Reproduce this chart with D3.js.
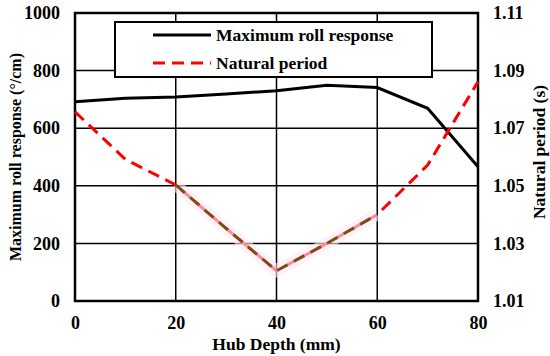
<!DOCTYPE html>
<html>
<head>
<meta charset="utf-8">
<script src="https://cdn.jsdelivr.net/npm/d3@7"></script>
<style>
  body { margin: 0; background: #fff; }
</style>
</head>
<body>
<svg></svg>
<script>
let width = 550;
let height = 356;
let margin = {top: 13, right: 72, bottom: 55, left: 75};
let serif = "'Liberation Serif', 'Times New Roman', serif";

let depth = [0, 10, 20, 30, 40, 50, 60, 70, 80];
let rollResponse = [692, 704, 708, 719, 730, 749, 741, 669, 466];
let naturalPeriod = [1.0757, 1.0592, 1.0503, 1.0352, 1.0205, 1.0300, 1.0400, 1.0572, 1.0861];
let xTicks = [0, 20, 40, 60, 80];
let leftTicks = [0, 200, 400, 600, 800, 1000];
let rightTicks = [1.01, 1.03, 1.05, 1.07, 1.09, 1.11];

let xScale = d3.scaleLinear()
    .domain([0, 80])
    .range([margin.left, width - margin.right]);

let yScale = d3.scaleLinear()
    .domain([0, 1000])
    .range([height - margin.bottom, margin.top]);

let y2Scale = d3.scaleLinear()
    .domain([1.01, 1.11])
    .range([height - margin.bottom, margin.top]);

let svg = d3.select("svg")
    .attr("width", width)
    .attr("height", height)
    .style("font-family", serif)
    .style("font-weight", "bold");

// grid
let grid = svg.append("g").attr("stroke", "#000").attr("stroke-width", 1.5);
grid.selectAll(".h").data(leftTicks).enter().append("line")
    .attr("x1", margin.left).attr("x2", width - margin.right)
    .attr("y1", d => yScale(d)).attr("y2", d => yScale(d));
grid.selectAll(".v").data(xTicks).enter().append("line")
    .attr("y1", margin.top).attr("y2", height - margin.bottom)
    .attr("x1", d => xScale(d)).attr("x2", d => xScale(d));

svg.append("rect")
    .attr("x", margin.left).attr("y", margin.top)
    .attr("width", width - margin.left - margin.right)
    .attr("height", height - margin.top - margin.bottom)
    .attr("fill", "none").attr("stroke", "#000").attr("stroke-width", 2.5);

// axes
let xAxis = d3.axisBottom(xScale).tickValues(xTicks).tickSize(0).tickPadding(15);
let yAxis = d3.axisLeft(yScale).tickValues(leftTicks).tickSize(0).tickPadding(15)
    .tickFormat(d3.format("d"));
let y2Axis = d3.axisRight(y2Scale).tickValues(rightTicks).tickSize(0).tickPadding(15)
    .tickFormat(d3.format(".2f"));

[svg.append("g").attr("transform", "translate(0," + (height - margin.bottom) + ")").call(xAxis),
 svg.append("g").attr("transform", "translate(" + margin.left + ",0)").call(yAxis),
 svg.append("g").attr("transform", "translate(" + (width - margin.right) + ",0)").call(y2Axis)]
    .forEach(g => {
        g.attr("font-family", null).attr("font-size", null);
        g.select(".domain").remove();
        g.selectAll("text")
            .style("font-family", serif)
            .style("font-weight", "bold")
            .style("font-size", "18px")
            .attr("fill", "#000");
    });

// axis titles
svg.append("text")
    .attr("x", (margin.left + width - margin.right) / 2)
    .attr("y", 350)
    .style("text-anchor", "middle")
    .style("font-size", "17.5px")
    .text("Hub Depth (mm)");

svg.append("text")
    .attr("transform", "rotate(-90)")
    .attr("x", -(margin.top + height - margin.bottom) / 2)
    .attr("y", 21)
    .style("text-anchor", "middle")
    .style("font-size", "16px")
    .text("Maximum roll response (°/cm)");

svg.append("text")
    .attr("transform", "rotate(-90)")
    .attr("x", -152)
    .attr("y", 545)
    .style("text-anchor", "middle")
    .style("font-size", "17.5px")
    .text("Natural period  (s)");

// lines
let rollLine = d3.line()
    .x((d, i) => xScale(depth[i]))
    .y(d => yScale(d));

let periodLine = d3.line()
    .x((d, i) => xScale(depth[i]))
    .y(d => y2Scale(d));

svg.append("path")
    .attr("d", rollLine(rollResponse))
    .attr("fill", "none").attr("stroke", "#000").attr("stroke-width", 3);

svg.append("path")
    .attr("d", periodLine(naturalPeriod))
    .attr("fill", "none").attr("stroke", "#ff0000").attr("stroke-width", 3)
    .attr("stroke-dasharray", "12,7");

// middle part of the period curve appears brown with a faint pink halo
let midLine = d3.line()
    .defined((d, i) => depth[i] >= 20 && depth[i] <= 60)
    .x((d, i) => xScale(depth[i]))
    .y(d => y2Scale(d));

svg.append("path")
    .attr("d", midLine(naturalPeriod))
    .attr("fill", "none").attr("stroke", "#fde8f6").attr("stroke-width", 12)
    .attr("stroke-opacity", 0.6);

svg.append("path")
    .attr("d", midLine(naturalPeriod))
    .attr("fill", "none").attr("stroke", "#7e4a14").attr("stroke-width", 3)
    .attr("stroke-dasharray", "12,7");

// legend
let legend = svg.append("g");
legend.append("rect")
    .attr("x", 115).attr("y", 22)
    .attr("width", 317).attr("height", 55)
    .attr("fill", "#fff").attr("stroke", "#000").attr("stroke-width", 2);

let legendNames = ["Maximum roll response", "Natural period"];
let legendColors = ["#000", "#ff0000"];
let legendDash = [null, "12,7"];

legendNames.forEach((name, i) => {
    let y = 35 + i * 28;
    legend.append("line")
        .attr("x1", 153).attr("x2", 211)
        .attr("y1", y).attr("y2", y)
        .attr("stroke", legendColors[i]).attr("stroke-width", 3)
        .attr("stroke-dasharray", legendDash[i]);
    legend.append("text")
        .attr("x", 216).attr("y", y + 6)
        .style("font-size", "17.5px")
        .text(name);
});
</script>
</body>
</html>
